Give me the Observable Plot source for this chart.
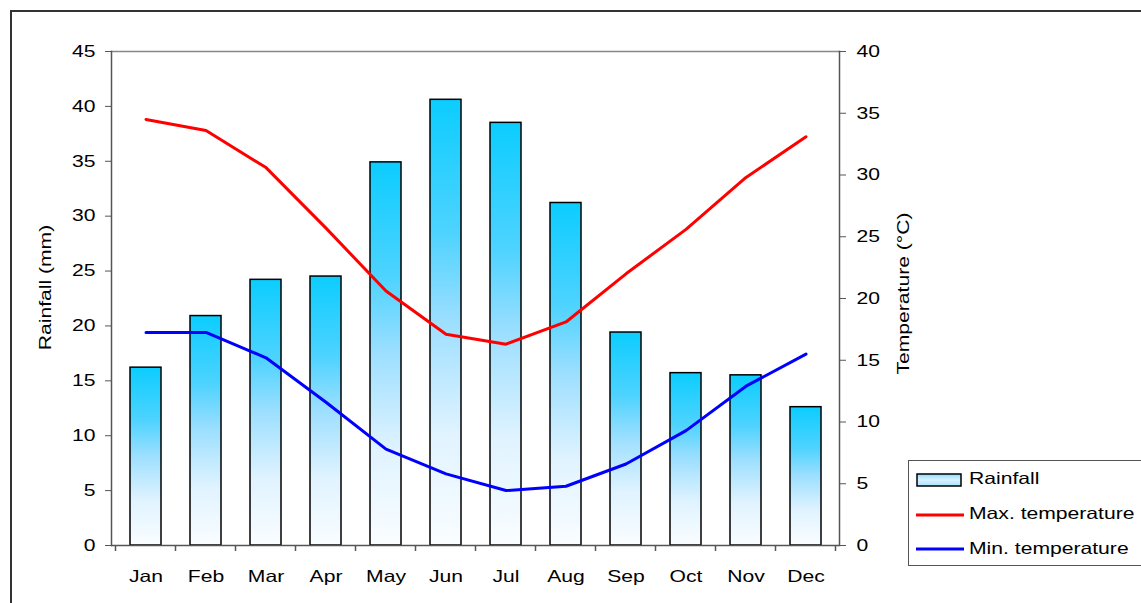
<!DOCTYPE html>
<html><head><meta charset="utf-8">
<script src="https://cdn.jsdelivr.net/npm/d3@7"></script>
<script src="https://cdn.jsdelivr.net/npm/@observablehq/plot@0.6"></script>
<style>
html,body{margin:0;padding:0;background:#fff;overflow:hidden;}
#wrap{position:relative;width:1141px;height:603px;font-family:"Liberation Sans",Arial,sans-serif;overflow:hidden;}
#wrap > svg{position:absolute;left:0;top:0;overflow:visible;}
#border{position:absolute;left:10px;top:10px;width:1200px;height:700px;border-left:2px solid #333;border-top:2px solid #333;}
#legend{position:absolute;left:908px;top:460px;width:260px;height:104px;border:1px solid #555;background:#fff;font-size:16.5px;color:#000;}
#legend .it{position:absolute;left:60px;line-height:20px;white-space:nowrap;transform:scaleX(1.28);transform-origin:0 50%;}
#legend svg{position:absolute;left:0;top:0;}
</style>
</head><body>
<div id="wrap"><div id="border"></div></div>
<script>
const months = ["Jan","Feb","Mar","Apr","May","Jun","Jul","Aug","Sep","Oct","Nov","Dec"];
const rainfall = [16.2, 20.9, 24.2, 24.5, 34.9, 40.6, 38.5, 31.2, 19.4, 15.7, 15.5, 12.6];
const maxTemp = [34.5, 33.6, 30.6, 25.7, 20.6, 17.1, 16.3, 18.1, 22.0, 25.6, 29.8, 33.1];
const minTemp = [17.25, 17.25, 15.2, 11.6, 7.8, 5.8, 4.45, 4.8, 6.6, 9.3, 12.9, 15.5];
const rainTicks = [0,5,10,15,20,25,30,35,40,45];
const tempTicks = [0,5,10,15,20,25,30,35,40];
const seriesNames = ["Rainfall","Max. temperature","Min. temperature"];
const seriesColors = ["url(#rainGrad)","#ff0000","#0000ff"];
const yLabelLeft = "Rainfall (mm)";
const yLabelRight = "Temperature (°C)";

const W = 1141, H = 603;
const FS = 16.5;       // font size
const SX = 1.28;       // horizontal text stretch seen in the reference
const margins = {marginTop: 51, marginRight: 302, marginBottom: 58, marginLeft: 111};
const xOpts = {type: "band", domain: months, paddingInner: 0.49, paddingOuter: 0.245};
const font = "Liberation Sans, Arial, sans-serif";

const rainData = months.map((m, i) => ({month: m, value: rainfall[i]}));
const maxData = months.map((m, i) => ({month: m, value: maxTemp[i]}));
const minData = months.map((m, i) => ({month: m, value: minTemp[i]}));

function gradientDefs() {
  const defs = d3.create("svg:defs");
  const g = defs.append("linearGradient").attr("id", "rainGrad").attr("x1", 0).attr("y1", 0).attr("x2", 0).attr("y2", 1);
  [[0, "#0ccdff"], [0.3, "#4ed3ff"], [0.5, "#9ddfff"], [0.75, "#e0f3ff"], [1, "#fafdff"]].forEach(([o, c]) =>
    g.append("stop").attr("offset", o).attr("stop-color", c));
  return defs.node();
}

function boundaryTicks(index, scales, values, dimensions) {
  const x = scales.x, y = scales.y;
  const inner = dimensions.width - dimensions.marginLeft - dimensions.marginRight;
  const step = x.step ? x.step() : inner / months.length;
  const bw = x.bandwidth ? x.bandwidth() : 0;
  const edges = months.map(m => x(m) - (step - bw) / 2);
  edges.push(x(months[months.length - 1]) + bw + (step - bw) / 2);
  const y0 = y(0);
  const g = d3.create("svg:g");
  g.selectAll("line").data(edges).join("line")
    .attr("x1", d => d).attr("x2", d => d)
    .attr("y1", y0).attr("y2", y0 + 6)
    .attr("stroke", "#555").attr("stroke-width", 1.5);
  return g.node();
}

function stretchText(svg) {
  svg.querySelectorAll("text").forEach(t => {
    const tr = t.getAttribute("transform") || "";
    t.setAttribute("transform", `${tr} scale(${SX},1)`);
  });
}

const plotRain = Plot.plot({
  width: W, height: H, ...margins,
  style: {fontFamily: font, fontSize: FS + "px", color: "#000", background: "transparent", overflow: "visible"},
  x: xOpts,
  y: {domain: [0, 45]},
  marks: [
    gradientDefs,
    Plot.frame({anchor: "top", stroke: "#888", strokeWidth: 1.5}),
    Plot.barY(rainData, {x: "month", y: "value", fill: "url(#rainGrad)", stroke: "#000", strokeWidth: 1.5}),
    Plot.ruleY([0], {stroke: "#555", strokeWidth: 1.5}),
    Plot.frame({anchor: "left", stroke: "#555", strokeWidth: 1.5}),
    Plot.axisY({ticks: rainTicks, tickSize: 6, tickPadding: 10, fontSize: FS, stroke: "#555", fill: "#000", label: null}),
    Plot.axisX({tickSize: 0, tickPadding: 25, fontSize: FS, fill: "#000", label: null}),
    boundaryTicks,
    Plot.text([yLabelLeft], {frameAnchor: "left", textAnchor: "middle", dx: -66, dy: -11, rotate: -90, fontSize: FS, fill: "#000"})
  ]
});

const plotTemp = Plot.plot({
  width: W, height: H, ...margins,
  style: {fontFamily: font, fontSize: FS + "px", color: "#000", background: "transparent", overflow: "visible"},
  x: {...xOpts, axis: null},
  y: {domain: [0, 40]},
  marks: [
    Plot.line(maxData, {x: "month", y: "value", stroke: seriesColors[1], strokeWidth: 3, strokeLinejoin: "round"}),
    Plot.line(minData, {x: "month", y: "value", stroke: seriesColors[2], strokeWidth: 3, strokeLinejoin: "round"}),
    Plot.frame({anchor: "right", stroke: "#555", strokeWidth: 1.5}),
    Plot.axisY({anchor: "right", ticks: tempTicks, tickSize: 6, tickPadding: 11, fontSize: FS, stroke: "#555", fill: "#000", label: null}),
    Plot.text([yLabelRight], {frameAnchor: "right", textAnchor: "middle", dx: 64, dy: -5, rotate: -90, fontSize: FS, fill: "#000"})
  ]
});

stretchText(plotRain);
stretchText(plotTemp);

const wrap = document.getElementById("wrap");
wrap.appendChild(plotRain);
wrap.appendChild(plotTemp);

// Legend
const legend = document.createElement("div");
legend.id = "legend";
const ls = d3.create("svg").attr("width", 60).attr("height", 104);
const ldefs = ls.append("defs").append("linearGradient").attr("id", "rainGradL").attr("x1", 0).attr("y1", 0).attr("x2", 0).attr("y2", 1);
[[0, "#8fdcff"], [0.5, "#d9f2ff"], [1, "#a6e3ff"]].forEach(([o, c]) => ldefs.append("stop").attr("offset", o).attr("stop-color", c));
ls.append("rect").attr("x", 8).attr("y", 13).attr("width", 44).attr("height", 12).attr("fill", "url(#rainGradL)").attr("stroke", "#000").attr("stroke-width", 1.5);
ls.append("line").attr("x1", 7).attr("x2", 55).attr("y1", 54).attr("y2", 54).attr("stroke", seriesColors[1]).attr("stroke-width", 3);
ls.append("line").attr("x1", 7).attr("x2", 55).attr("y1", 88).attr("y2", 88).attr("stroke", seriesColors[2]).attr("stroke-width", 3);
legend.appendChild(ls.node());
[[seriesNames[0], 7], [seriesNames[1], 42], [seriesNames[2], 77]].forEach(([t, top]) => {
  const d = document.createElement("div");
  d.className = "it";
  d.style.top = top + "px";
  d.textContent = t;
  legend.appendChild(d);
});
wrap.appendChild(legend);
</script>
</body></html>
